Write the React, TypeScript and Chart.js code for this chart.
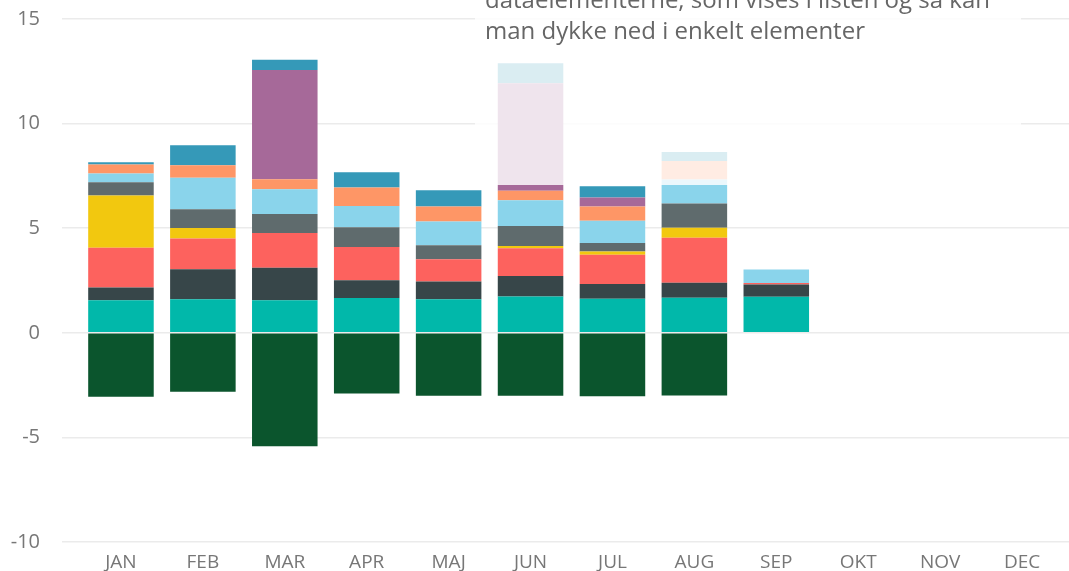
import React, { useEffect, useRef } from "react";
import { Chart, registerables } from "chart.js";

Chart.register(...registerables);

const months = ["JAN", "FEB", "MAR", "APR", "MAJ", "JUN", "JUL", "AUG", "SEP", "OKT", "NOV", "DEC"];
const yTicks = [-10, -5, 0, 5, 10, 15];

const serieNeg = [-3.06, -2.82, -5.42, -2.9, -3.01, -3.01, -3.03, -3.0, null, null, null, null];
const serieTeal = [1.56, 1.6, 1.56, 1.66, 1.6, 1.74, 1.63, 1.67, 1.72, null, null, null];
const serieDark = [0.6, 1.44, 1.55, 0.85, 0.85, 0.97, 0.7, 0.72, 0.59, null, null, null];
const serieRed = [1.91, 1.47, 1.66, 1.59, 1.07, 1.33, 1.4, 2.15, 0.07, null, null, null];
const serieYellow = [2.49, 0.5, 0, 0, 0, 0.11, 0.16, 0.48, 0, null, null, null];
const serieGray = [0.64, 0.89, 0.91, 0.94, 0.67, 0.96, 0.4, 1.16, 0, null, null, null];
const serieLightBlue = [0.42, 1.51, 1.18, 1.02, 1.13, 1.23, 1.07, 1.15, 0.64, null, null, null];
const serieOrange = [0.43, 0.6, 0.48, 0.89, 0.72, 0.45, 0.68, 0.88, 0, null, null, null];
const seriePurple = [0, 0, 5.22, 0, 0, 5.14, 0.43, 0, 0, null, null, null];
const serieBlue = [0.1, 0.96, 0.49, 0.73, 0.77, 0.96, 0.53, 0.43, 0, null, null, null];

const seriesList = [
  { label: "Negativ", data: serieNeg, color: "#0B552D" },
  { label: "Serie 1", data: serieTeal, color: "#01B8AA" },
  { label: "Serie 2", data: serieDark, color: "#374649" },
  { label: "Serie 3", data: serieRed, color: "#FD625E" },
  { label: "Serie 4", data: serieYellow, color: "#F2C80F" },
  { label: "Serie 5", data: serieGray, color: "#5F6B6D" },
  { label: "Serie 6", data: serieLightBlue, color: "#8AD4EB" },
  { label: "Serie 7", data: serieOrange, color: "#FE9666" },
  { label: "Serie 8", data: seriePurple, color: "#A66999" },
  { label: "Serie 9", data: serieBlue, color: "#3599B8" },
];

const overlayLines = [
  "dataelementerne, som vises i listen og så kan",
  "man dykke ned i enkelt elementer",
];

const FONT = "'Open Sans', 'Noto Sans', sans-serif";

const zeroPad = (scale: any) => {
  scale.paddingTop = 0;
  scale.paddingBottom = 0;
  scale.paddingLeft = 0;
  scale.paddingRight = 0;
};

export default function App() {
  const canvasRef = useRef<HTMLCanvasElement | null>(null);

  useEffect(() => {
    document.body.style.margin = "0";
    const canvas = canvasRef.current;
    if (!canvas) return;
    const gridColor = "#ebebeb";
    const chart = new Chart(canvas, {
      type: "bar",
      data: {
        labels: months,
        datasets: seriesList.map((s) => ({
          label: s.label,
          data: s.data as any,
          backgroundColor: s.color,
          borderWidth: 0,
          categoryPercentage: 0.8,
          barPercentage: 1,
          stack: "a",
        })),
      },
      options: {
        animation: false,
        responsive: false,
        maintainAspectRatio: false,
        layout: { padding: { top: 19, right: 0, left: 0, bottom: 0 } },
        plugins: {
          legend: { display: false },
          tooltip: { enabled: false },
        },
        scales: {
          x: {
            stacked: true,
            grid: { display: false, drawTicks: false },
            border: { display: false },
            ticks: {
              color: "#777777",
              padding: 9,
              font: { family: FONT, size: 19 },
            },
            afterFit: (scale: any) => {
              scale.height = 29;
              zeroPad(scale);
            },
          },
          y: {
            stacked: true,
            min: -10,
            max: 15,
            afterBuildTicks: (scale: any) => {
              scale.ticks = yTicks.map((v) => ({ value: v }));
            },
            grid: {
              color: gridColor,
              lineWidth: 1.5,
              drawTicks: true,
              tickLength: 18,
              tickColor: gridColor,
            },
            border: { display: false },
            ticks: {
              color: "#777777",
              padding: 22,
              font: { family: FONT, size: 20 },
            },
            afterFit: (scale: any) => {
              scale.width = 80;
              zeroPad(scale);
            },
          },
          y2: {
            position: "right",
            min: -10,
            max: 15,
            afterBuildTicks: (scale: any) => {
              scale.ticks = yTicks.map((v) => ({ value: v }));
            },
            grid: {
              drawOnChartArea: false,
              drawTicks: true,
              tickLength: 6,
              color: gridColor,
              lineWidth: 1.5,
              tickColor: gridColor,
            },
            border: { display: false },
            ticks: { display: false },
            afterFit: (scale: any) => {
              scale.width = 6;
              zeroPad(scale);
            },
          },
        },
      },
    });
    return () => chart.destroy();
  }, []);

  return (
    <div style={{ position: "absolute", left: 0, top: 0, width: 1069, height: 571, overflow: "hidden", background: "#fff" }}>
      <canvas ref={canvasRef} width={1069} height={571} style={{ display: "block" }} />
      <div
        style={{
          position: "absolute",
          left: 475,
          top: 0,
          width: 546,
          height: 185,
          background: "rgba(255,255,255,0.82)",
          overflow: "hidden",
        }}
      >
        <div
          style={{
            position: "absolute",
            left: 10,
            top: -17,
            fontFamily: FONT,
            fontSize: 24,
            lineHeight: "31px",
            color: "#666666",
            whiteSpace: "nowrap",
          }}
        >
          {overlayLines.map((l, i) => (
            <div key={i}>{l}</div>
          ))}
        </div>
      </div>
    </div>
  );
}
